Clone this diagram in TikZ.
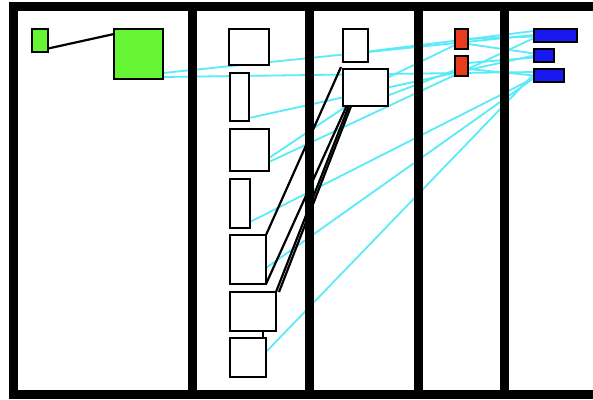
\documentclass[tikz,border=0pt]{standalone}
\usetikzlibrary{calc}
\definecolor{gfill}{RGB}{102,245,51}
\definecolor{rfill}{RGB}{232,60,28}
\definecolor{bfill}{RGB}{24,24,240}
\definecolor{cyanl}{RGB}{90,235,250}
\pgfdeclarelayer{bg}
\pgfsetlayers{bg,main}
\begin{document}
\begin{tikzpicture}[x=1pt,y=-1pt,
  box/.style={draw=black,line width=2.5pt,fill=white,inner sep=0pt,outer sep=0pt},
  gbox/.style={box,fill=gfill},
  rbox/.style={box,fill=rfill},
  bbox/.style={box,fill=bfill},
  frame/.style={draw=black,line width=9pt},
  link/.style={draw=black,line width=2.2pt},
  clink/.style={draw=cyanl,line width=1.8pt}]
\useasboundingbox (0,0) rectangle (593,399);
\clip (0,0) rectangle (593,399);
% nodes
\node[gbox,minimum width=16pt,minimum height=23pt] (gS) at (40,40.5) {};
\node[gbox,minimum width=49pt,minimum height=50pt] (gB) at (138.5,54) {};
\node[box,minimum width=40pt,minimum height=36pt] (c1) at (249,47) {};
\node[box,minimum width=19pt,minimum height=48pt] (c2) at (239.5,97) {};
\node[box,minimum width=39pt,minimum height=42pt] (c3) at (249.5,150) {};
\node[box,minimum width=20pt,minimum height=49pt] (c4) at (240,203.5) {};
\node[box,minimum width=36pt,minimum height=49pt] (c5) at (248,259.5) {};
\node[box,minimum width=46pt,minimum height=39pt] (c6) at (253,311.5) {};
\node[box,minimum width=36pt,minimum height=39pt] (c7) at (248,357.5) {};
\node[box,minimum width=25pt,minimum height=33pt] (A) at (355.5,45.5) {};
\node[box,minimum width=45pt,minimum height=37pt] (B) at (365.5,87.5) {};
\node[rbox,minimum width=13pt,minimum height=20pt] (r1) at (461.5,39) {};
\node[rbox,minimum width=13pt,minimum height=20pt] (r2) at (461.5,66) {};
\node[bbox,minimum width=43pt,minimum height=13pt] (b1) at (555.5,35.5) {};
\node[bbox,minimum width=20pt,minimum height=13pt] (b2) at (544,55.5) {};
\node[bbox,minimum width=30pt,minimum height=13pt] (b3) at (549,75.5) {};
\begin{pgfonlayer}{bg}
\fill[white] (0,0) rectangle (593,399);
% cyan edges
\draw[clink] ([yshift=-19pt]gB.east) -- ([yshift=0.5pt]b1.west);
\draw[clink] ([yshift=-23pt]gB.east) -- ([yshift=3.5pt]b3.west);
\draw[clink] ([yshift=-21pt]c2.east) -- (b2.west);
\draw[clink] ([yshift=-8pt]c3.east) -- ($(B.south west)!0.08!(B.south east)$);
\draw[clink] ([yshift=-12pt]c3.east) -- ([yshift=-2.5pt]b1.west);
\draw[clink] ([yshift=-18.5pt]c4.east) -- ([yshift=-2.5pt]b3.west);
\draw[clink] ([yshift=-8.5pt]c5.east) -- ([yshift=-2.5pt]b3.west);
\draw[clink] ([yshift=5.5pt]c7.east) -- ([yshift=1.5pt]b3.west);
\draw[clink] ([yshift=-6pt]A.east) -- ([yshift=4.5pt]b1.west);
\draw[clink] ([yshift=10pt]B.east) -- ([yshift=-6pt]r1.west);
\draw[clink] ([yshift=-8pt]B.east) -- ([yshift=-4pt]r2.west);
\draw[clink] (r1.east) -- ([yshift=-1pt]b1.west);
\draw[clink] ([yshift=-5pt]r1.east) -- ([yshift=2pt]b2.west);
\draw[clink] ([yshift=3pt]r2.east) -- ([yshift=-2pt]b2.west);
\draw[clink] ([yshift=-3pt]r2.east) -- (b3.west);
% black edges
\draw[link] ($(gS.north east)!0.85!(gS.south east)$) -- ($(gB.north west)!0.1!(gB.south west)$);
\draw[link] ([xshift=-2pt,yshift=2pt]B.north west) -- (c5.north east);
\draw[link] ($(B.south west)!0.08!(B.south east)$) -- (c5.south east);
\draw[link] ($(B.south west)!0.13!(B.south east)$) -- (c6.north east);
\draw[link] ($(B.south west)!0.18!(B.south east)$) -- ([xshift=3pt]c6.north east);
\draw[link] ($(c6.south west)!0.72!(c6.south east)$) coordinate (k) -- (k |- c7.north);
% frame
\draw[frame] (13.8,6) rectangle (640,394.5);
\draw[frame] (192,6) -- (192,394.5);
\draw[frame] (309,6) -- (309,394.5);
\draw[frame] (418.5,6) -- (418.5,394.5);
\draw[frame] (504.5,6) -- (504.5,394.5);
\end{pgfonlayer}
\end{tikzpicture}
\end{document}
